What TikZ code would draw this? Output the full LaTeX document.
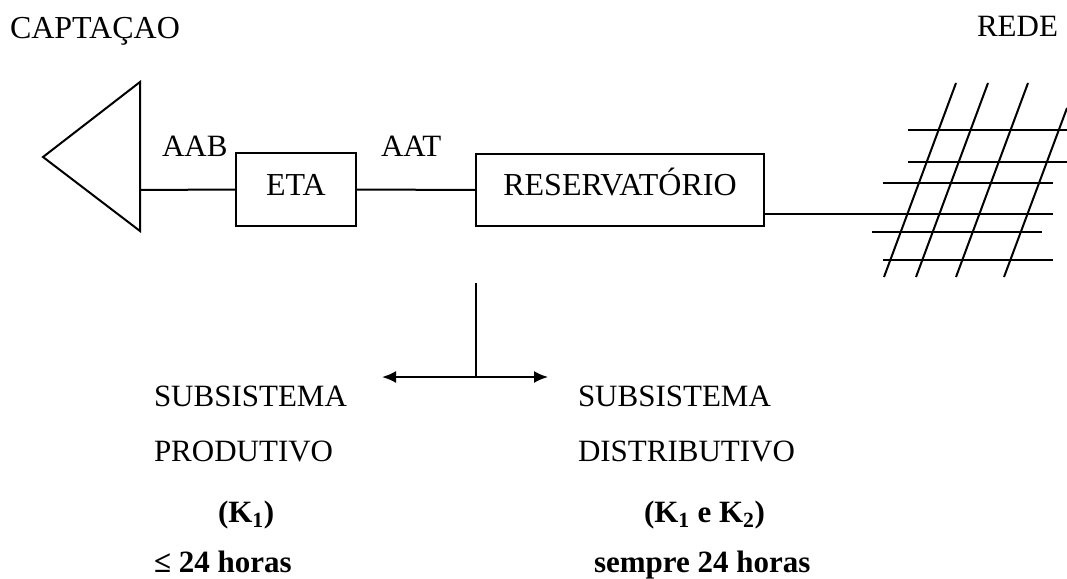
\documentclass[tikz,border=0pt]{standalone}
\usepackage{fontspec}
\setmainfont{Liberation Serif}
\usetikzlibrary{arrows.meta}
\begin{document}
\begin{tikzpicture}[x=1pt,y=-1pt,
  line width=2pt,
  lbl/.style={anchor=base west,inner sep=0pt,font=\fontsize{31}{37}\selectfont},
  blbl/.style={anchor=base west,inner sep=0pt,font=\fontsize{31}{37}\selectfont\bfseries},
  boxnode/.style={draw,line width=2pt,rectangle,inner sep=0pt,text height=22pt,text depth=11pt,font=\fontsize{32}{37}\selectfont}]
\useasboundingbox (0,0) rectangle (1067,578);
% top labels
\node[lbl,font=\fontsize{32}{37}\selectfont] (capt) at (9,38) {CAPTAÇAO};
\node[lbl] (rede) at (976,37) {REDE};
% triangle (captação)
\draw[line join=miter] (140,82) -- (43,157) -- (140,231) -- cycle;
\coordinate (tri) at (140,190);
% boxes
\node[boxnode,minimum width=120pt,minimum height=73pt] (eta) at (296,189.5) {ETA\hspace{18pt}};
\node[boxnode,minimum width=288pt,minimum height=72pt] (res) at (620,190) {RESERVATÓRIO\hspace{6pt}};
\node[lbl] (aab) at (161,156) {AAB};
\node[lbl] (aat) at (380,156) {AAT};
% connectors
\draw (tri) -- (eta.west);
\draw (eta.east) -- (res.west);
\coordinate (rout) at (764,214);
\coordinate (gridin) at (1053,214);
\draw (rout) -- (gridin);
% grid (rede)
\draw (956,83) -- (884,277);
\draw (988,83) -- (916,277);
\draw (1028,83) -- (956,277);
\draw (1067,108) -- (1004,277);
\draw (908,130) -- (1067,130);
\draw (908,162) -- (1067,162);
\draw (883,183) -- (1053,183);
\draw (872,232) -- (1042,232);
\draw (883,260) -- (1053,260);
% divider
\coordinate (vtop) at (476,283);
\coordinate (vbot) at (476,377);
\coordinate (aleft) at (382,377);
\coordinate (aright) at (548,377);
\draw (vtop) -- (vbot);
\draw[{Latex[length=14pt,width=12pt]}-{Latex[length=14pt,width=12pt]}] (aleft) -- (aright);
% bottom texts
\node[lbl] (s1) at (153,406) {SUBSISTEMA};
\node[lbl] (p1) at (153,461) {PRODUTIVO};
\node[blbl] (k1) at (217,522) {(K\textsubscript{1})};
\node[blbl] (h1) at (153,572) {≤ 24 horas};
\node[lbl] (s2) at (577,406) {SUBSISTEMA};
\node[lbl] (d2) at (577,461) {DISTRIBUTIVO};
\node[blbl] (k2) at (643,522) {(K\textsubscript{1} e K\textsubscript{2})};
\node[blbl] (h2) at (593,572) {sempre 24 horas};
\end{tikzpicture}
\end{document}
